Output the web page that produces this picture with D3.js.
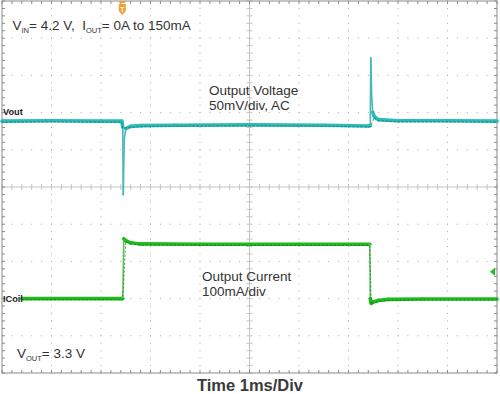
<!DOCTYPE html>
<html>
<head>
<meta charset="utf-8">
<script src="https://cdn.jsdelivr.net/npm/d3@7"></script>
<style>
body { margin: 0; background: #fff; }
svg { display: block; font-family: "Liberation Sans", Arial, sans-serif; }
</style>
</head>
<body>
<svg id="scope"></svg>
<script>
const width = 500;
const height = 394;

// 10 divisions of 1 ms across, 10 divisions down
const timeDivs = d3.range(0, 11);
const vertDivs = d3.range(-5, 6);

// Output voltage, AC coupled (ms, mV)
const voutTime = [0, 1, 2, 2.42, 2.44, 2.45, 2.47, 2.5, 2.6, 2.8, 3.5, 5, 6.5, 7.4, 7.44, 7.45, 7.47, 7.49, 7.52, 7.6, 8, 9, 10];
const voutMv   = [0, 0.5, 0, 0, -8, -99, -25, -10, -7, -6, -5.5, -5, -5.5, -6.5, -6, 85, 30, 12, 6, 2, 0.5, 0.5, 0];

// Coil current (ms, mA)
const icoilTime = [0, 1, 2, 2.42, 2.44, 2.46, 2.5, 2.6, 2.8, 4, 6, 7.43, 7.44, 7.46, 7.5, 7.6, 7.8, 8.5, 10];
const icoilMa   = [0, 0, 0, 0, 0, 161, 156, 150, 147, 146, 146, 146, 0, -13, -9, -5, -2, -1, -1];

const triggerTime = 2.43;
const triggerLevelMa = 72;

const svg = d3.select("#scope")
    .attr("width", width)
    .attr("height", height);

const x = d3.scaleLinear().domain([0, 10]).range([2, 497]);
const y = d3.scaleLinear().domain([-5, 5]).range([373, 1]);
// Vout: 50mV/div, reference at +1.77 div
const yV = d3.scaleLinear().domain([-50 * (5 + 1.77), 50 * (5 - 1.77)]).range([373, 1]);
// ICoil: 100mA/div, reference at -3 div
const yI = d3.scaleLinear().domain([-200, 800]).range([373, 1]);

const minorX = d3.range(0, 10.001, 0.2);
const minorY = d3.range(-5, 5.001, 0.2);

// dotted graticule
const grid = svg.append("g").attr("fill", "#a8a8a8");
vertDivs.filter(d => d !== 0 && Math.abs(d) !== 5).forEach(d => {
    grid.selectAll(null)
        .data(minorX)
        .enter().append("rect")
        .attr("x", t => x(t) - 0.5)
        .attr("y", y(d) - 0.5)
        .attr("width", 1)
        .attr("height", 1);
});
timeDivs.filter(t => t !== 5 && t !== 0 && t !== 10).forEach(t => {
    grid.selectAll(null)
        .data(minorY)
        .enter().append("rect")
        .attr("x", x(t) - 0.5)
        .attr("y", d => y(d) - 0.5)
        .attr("width", 1)
        .attr("height", 1);
});

// center cross with ticks
const cross = svg.append("g").attr("stroke", "#c4c4c4").attr("stroke-width", 1);
cross.append("line")
    .attr("x1", x(0)).attr("x2", x(10))
    .attr("y1", y(0)).attr("y2", y(0));
cross.append("line")
    .attr("x1", x(5)).attr("x2", x(5))
    .attr("y1", y(-5)).attr("y2", y(5));
cross.selectAll(null)
    .data(minorX)
    .enter().append("line")
    .attr("x1", t => x(t)).attr("x2", t => x(t))
    .attr("y1", y(0) - 3).attr("y2", y(0) + 3);
cross.selectAll(null)
    .data(minorY)
    .enter().append("line")
    .attr("x1", x(5) - 3).attr("x2", x(5) + 3)
    .attr("y1", d => y(d)).attr("y2", d => y(d));

// border with inward ticks
const border = svg.append("g").attr("stroke", "#8a8a8a").attr("stroke-width", 1);
border.append("rect")
    .attr("x", x(0)).attr("y", y(5))
    .attr("width", x(10) - x(0))
    .attr("height", y(-5) - y(5))
    .attr("fill", "none");
border.selectAll(null)
    .data(minorX)
    .enter().append("line")
    .attr("x1", t => x(t)).attr("x2", t => x(t))
    .attr("y1", y(-5)).attr("y2", y(-5) - 3);
border.selectAll(null)
    .data(minorX)
    .enter().append("line")
    .attr("x1", t => x(t)).attr("x2", t => x(t))
    .attr("y1", y(5)).attr("y2", y(5) + 3);
border.selectAll(null)
    .data(minorY)
    .enter().append("line")
    .attr("x1", x(0)).attr("x2", x(0) + 3)
    .attr("y1", d => y(d)).attr("y2", d => y(d));
border.selectAll(null)
    .data(minorY)
    .enter().append("line")
    .attr("x1", x(10)).attr("x2", x(10) - 3)
    .attr("y1", d => y(d)).attr("y2", d => y(d));

// traces: flat parts drawn as a thick noisy band, fast edges as a thin line
function drawTrace(times, values, yScale, color, edgeColor, darkColor, startX) {
    const pts = times.map((t, i) => [Math.max(x(t), startX), yScale(values[i])]);
    const segs = d3.pairs(pts);
    const g = svg.append("g").attr("fill", "none").attr("stroke-linecap", "round");
    g.selectAll(null)
        .data(segs)
        .enter().append("line")
        .attr("x1", d => d[0][0]).attr("y1", d => d[0][1])
        .attr("x2", d => d[1][0]).attr("y2", d => d[1][1])
        .attr("stroke", d => Math.abs(d[1][1] - d[0][1]) > 8 ? edgeColor : color)
        .attr("stroke-width", d => Math.abs(d[1][1] - d[0][1]) > 8 ? 1.6 : 3.6);
    g.append("path")
        .attr("d", d3.line()(pts.filter((p, i) => i === 0 || Math.abs(p[1] - pts[i - 1][1]) <= 8)))
        .attr("transform", "translate(0,1)")
        .attr("stroke", darkColor)
        .attr("stroke-width", 0.9)
        .attr("stroke-dasharray", "1.5,2.5")
        .attr("opacity", 0.75);
}

drawTrace(voutTime, voutMv, yV, "#2bbaba", "#46b8b8", "#1b6060", x(0));
drawTrace(icoilTime, icoilMa, yI, "#1fbb1f", "#5cc45c", "#0c700c", 22);

// channel labels
svg.append("text")
    .attr("x", 3).attr("y", yV(0) - 6)
    .attr("font-size", 9.2)
    .attr("font-weight", "bold")
    .attr("fill", "#222")
    .text("Vout");
svg.append("text")
    .attr("x", 3).attr("y", yI(0) + 3.2)
    .attr("font-size", 9.2)
    .attr("font-weight", "bold")
    .attr("fill", "#222")
    .text("ICoil");

// trigger markers
const tx = x(triggerTime);
svg.append("rect")
    .attr("x", tx - 3).attr("y", 1)
    .attr("width", 6).attr("height", 2)
    .attr("fill", "#f0a030");
svg.append("path")
    .attr("d", `M${tx - 3.5},4 H${tx + 3.5} V11 L${tx},15 L${tx - 3.5},11 Z`)
    .attr("fill", "#f0a030");
svg.append("text")
    .attr("x", tx).attr("y", 11.5)
    .attr("text-anchor", "middle")
    .attr("font-size", 7)
    .attr("font-weight", "bold")
    .attr("fill", "#fff")
    .text("T");
const ty = yI(triggerLevelMa);
svg.append("path")
    .attr("d", `M${x(10) - 7},${ty} L${x(10) - 2},${ty - 4} L${x(10) - 2},${ty + 4} Z`)
    .attr("fill", "#1fbb1f");

// annotations
const note = svg.append("g").attr("fill", "#333").attr("font-size", 13.5);

const vin = note.append("text").attr("x", 12.5).attr("y", 30);
vin.append("tspan").text("V");
vin.append("tspan").attr("font-size", 7.5).attr("dy", 3).text("IN");
vin.append("tspan").attr("dy", -3).text("= 4.2 V,\u00a0 I");
vin.append("tspan").attr("font-size", 7.5).attr("dy", 3).text("OUT");
vin.append("tspan").attr("dy", -3).text("= 0A to 150mA");

note.append("text").attr("x", 209).attr("y", 94.5).attr("font-size", 13.5).text("Output Voltage");
note.append("text").attr("x", 209).attr("y", 109.5).attr("font-size", 13.5).text("50mV/div, AC");
note.append("text").attr("x", 202).attr("y", 281).attr("font-size", 13.5).text("Output Current");
note.append("text").attr("x", 202).attr("y", 296).attr("font-size", 13.5).text("100mA/div");

const vo = note.append("text").attr("x", 17).attr("y", 358);
vo.append("tspan").text("V");
vo.append("tspan").attr("font-size", 7.5).attr("dy", 3).text("OUT");
vo.append("tspan").attr("dy", -3).text("= 3.3 V");

svg.append("text")
    .attr("x", 250).attr("y", 391)
    .attr("text-anchor", "middle")
    .attr("font-size", 16.5)
    .attr("font-weight", "bold")
    .attr("fill", "#3a3a3a")
    .text("Time 1ms/Div");
</script>
</body>
</html>
